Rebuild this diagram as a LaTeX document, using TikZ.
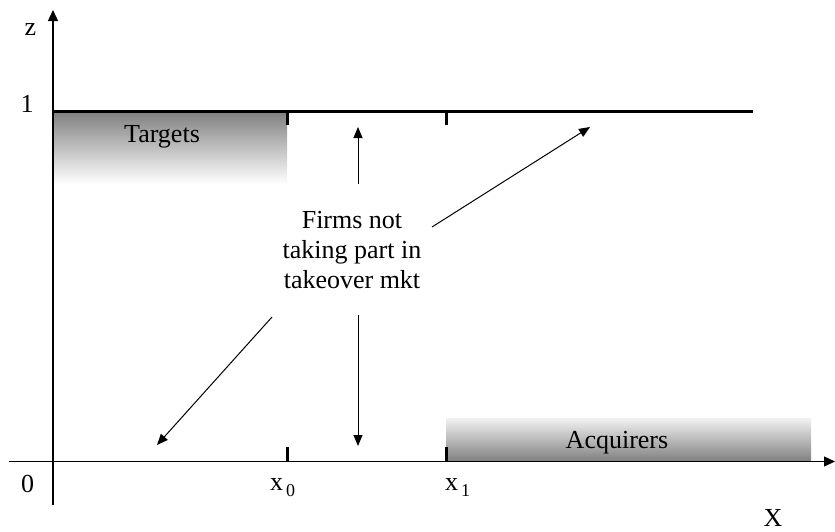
\documentclass[tikz,border=0pt]{standalone}
\usepackage{fontspec}
\setmainfont{Liberation Serif}
\usetikzlibrary{arrows.meta}
\tikzset{
  lbl/.style={inner sep=0pt, font=\fontsize{26}{30}\selectfont},
  axisline/.style={line width=1.3pt},
  levelline/.style={line width=3pt},
  tickmark/.style={line width=3pt},
  pointer/.style={line width=1pt, -{Triangle[length=11pt,width=9pt]}},
  axisarrow/.style={axisline, -{Triangle[length=11pt,width=10pt]}}
}
\newcommand{\subtxt}[1]{\kern3pt\raisebox{-6pt}{\fontsize{18}{18}\selectfont #1}}
\begin{document}
\begin{tikzpicture}[x=1pt,y=-1pt]
\useasboundingbox (0,0) rectangle (835,531);
% shaded regions
\shade[top color=black!50, bottom color=white] (53,111) rectangle (287,184);
\shade[top color=black!5, bottom color=black!50] (446,418) rectangle (811,461.5);
% axes
\coordinate (yb) at (53,505);
\coordinate (yt) at (53,10);
\coordinate (xl) at (9,461.5);
\coordinate (xr) at (835,461.5);
\draw[axisarrow] (yb) -- (yt);
\draw[axisarrow] (xl) -- (xr);
% level line z=1
\coordinate (ll) at (53,111);
\coordinate (lr) at (753,111);
\draw[levelline] (ll) -- (lr);
% ticks
\coordinate (t0a) at (287,111); \coordinate (t0b) at (287,125);
\coordinate (t1a) at (446.5,111); \coordinate (t1b) at (446.5,125);
\coordinate (b0a) at (287,461.5); \coordinate (b0b) at (287,447);
\coordinate (b1a) at (446.5,461.5); \coordinate (b1b) at (446.5,447);
\draw[tickmark] (t0a) -- (t0b);
\draw[tickmark] (t1a) -- (t1b);
\draw[tickmark] (b0a) -- (b0b);
\draw[tickmark] (b1a) -- (b1b);
% labels
\node[lbl, anchor=base] (zlab) at (30.5,35) {z};
\node[lbl, anchor=base] (one) at (27,112) {1};
\node[lbl, anchor=base] (zero) at (27.5,492) {0};
\node[lbl, anchor=base west] (x0) at (270,490) {x\subtxt{0}};
\node[lbl, anchor=base west] (x1) at (445,490) {x\subtxt{1}};
\node[lbl, anchor=base] (Xlab) at (773,526) {X};
\node[lbl, anchor=base] (targets) at (162,142) {Targets};
\node[lbl, anchor=base] (acq) at (617,448) {Acquirers};
\node[lbl, align=center] (firms) at (352,250) {Firms not\\taking part in\\takeover mkt};
% pointers
\coordinate (upS) at (358,184); \coordinate (upE) at (358,127);
\coordinate (dnS) at (358,315); \coordinate (dnE) at (358,446);
\coordinate (dlS) at (272,317); \coordinate (dlE) at (157,445);
\coordinate (urS) at (432,227); \coordinate (urE) at (590,127);
\draw[pointer] (upS) -- (upE);
\draw[pointer] (dnS) -- (dnE);
\draw[pointer] (dlS) -- (dlE);
\draw[pointer] (urS) -- (urE);
\end{tikzpicture}
\end{document}
